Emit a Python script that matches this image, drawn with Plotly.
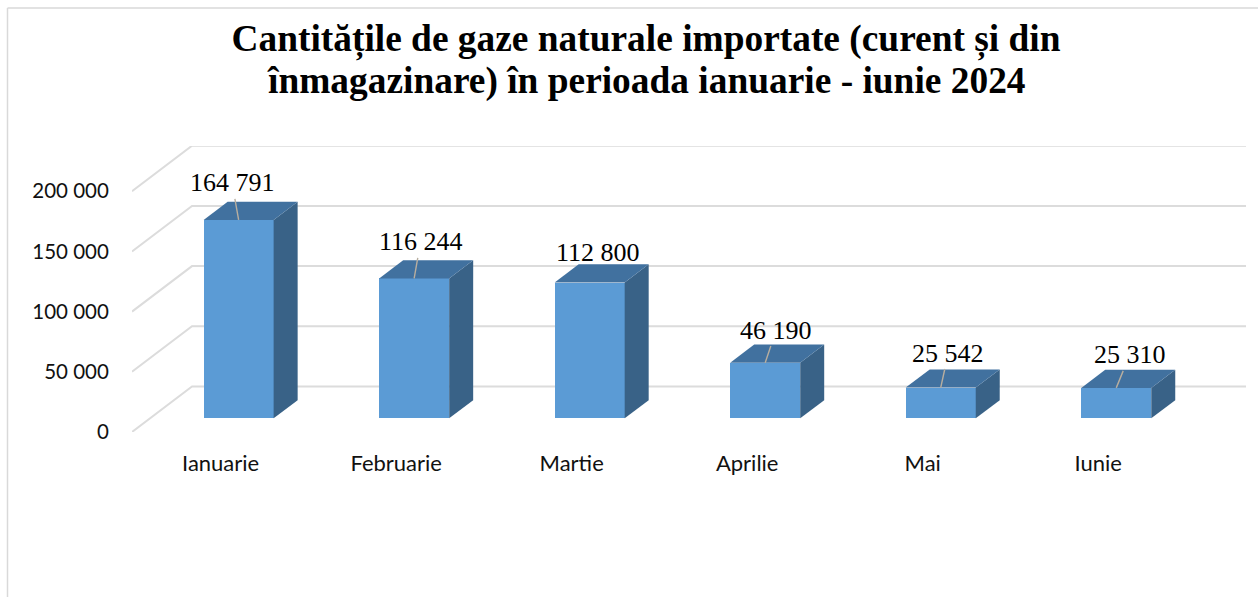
import plotly.graph_objects as go

categories = ["Ianuarie", "Februarie", "Martie", "Aprilie", "Mai", "Iunie"]
values = [164791, 116244, 112800, 46190, 25542, 25310]
value_labels = ["164 791", "116 244", "112 800", "46 190", "25 542", "25 310"]
y_ticks = [0, 50000, 100000, 150000, 200000]
y_tick_labels = ["0", "50 000", "100 000", "150 000", "200 000"]
title_line_1 = "Cantitățile de gaze naturale importate (curent și din"
title_line_2 = "înmagazinare) în perioada ianuarie - iunie 2024"

# label offsets from the bar's front top centre (pixels)
label_dx = [-6.6, 6.4, 8, 11, 7.6, 13.5]
label_dy = [-37, -36.6, -30, -32.7, -34.6, -33]
label_leader = [True, True, False, True, True, True]

W, H = 1258, 597
L, R, T, B = 132, 1246, 146, 432
PX_PER_CAT = 175.5
PX_PER_Y = 1.204 / 1000
DX = 60 / PX_PER_CAT        # floor depth, category units
DY = 45.5 / PX_PER_Y        # floor depth, value units
BAR_NEAR, BAR_FAR = 0.30, 0.70
BAR_W = 70 / PX_PER_CAT


def proj(x, y, d):
    return x + d * DX, y + d * DY


fig = go.Figure()

# grid: floor diagonals + back wall, under the bars
x0, x1 = -0.505, 5.5
for t in y_ticks:
    a = proj(x0, t, 0)
    b = proj(x0, t, 1)
    c = proj(x1, t, 1)
    fig.add_shape(type="path", xref="x", yref="y", layer="below",
                  path=f"M {a[0]} {a[1]} L {b[0]} {b[1]} L {c[0]} {c[1]}",
                  line=dict(color="#dcdcdc", width=2))

# side and top faces
for i, v in enumerate(values):
    l, r = i - BAR_W / 2, i + BAR_W / 2
    side = [proj(r, 0, BAR_NEAR), proj(r, 0, BAR_FAR), proj(r, v, BAR_FAR), proj(r, v, BAR_NEAR)]
    top = [proj(l, v, BAR_NEAR), proj(l, v, BAR_FAR), proj(r, v, BAR_FAR), proj(r, v, BAR_NEAR)]
    for pts, col in ((side, "#396287"), (top, "#41719f")):
        fig.add_trace(go.Scatter(x=[p[0] for p in pts], y=[p[1] for p in pts], fill="toself",
                                 mode="lines", line=dict(width=0), fillcolor=col,
                                 cliponaxis=False, hoverinfo="skip", showlegend=False))

# front faces
fig.add_trace(go.Bar(x=[i + BAR_NEAR * DX for i in range(len(values))], y=values,
                     base=BAR_NEAR * DY, width=BAR_W, marker=dict(color="#5b9bd5", line=dict(width=0)),
                     showlegend=False))

# data labels with leader lines
for i, v in enumerate(values):
    ax, ay = proj(i, v, BAR_NEAR)
    fig.add_annotation(x=ax, y=ay, text=value_labels[i], xref="x", yref="y",
                       showarrow=True, arrowhead=0, arrowwidth=1.4,
                       arrowcolor="#b8ae9f" if label_leader[i] else "rgba(0,0,0,0)",
                       axref="pixel", ayref="pixel", ax=label_dx[i], ay=label_dy[i],
                       font=dict(family="Liberation Serif", size=26, color="#000000"))

px = lambda p: (p - L) / (R - L)
py = lambda p: (B - p) / (B - T)

# second title line
fig.add_annotation(x=px(646), y=py(80.5), xref="paper", yref="paper", text="<b>" + title_line_2 + "</b>",
                   xanchor="center", yanchor="middle",
                   showarrow=False, font=dict(family="Liberation Serif", size=37.4, color="#000000"))

# outer frame
fig.add_shape(type="line", xref="paper", yref="paper", x0=px(7.5), x1=px(7.5), y0=py(8), y1=py(597),
              line=dict(color="#d9d9d9", width=1.5))
fig.add_shape(type="line", xref="paper", yref="paper", x0=px(7.5), x1=px(1258), y0=py(8), y1=py(8),
              line=dict(color="#d9d9d9", width=1.5))

fig.update_layout(
    width=W, height=H, paper_bgcolor="white", plot_bgcolor="white",
    margin=dict(l=L, r=W - R, t=T, b=H - B, pad=0),
    bargap=0, showlegend=False,
    title=dict(text="<b>" + title_line_1 + "</b>", x=646 / W, xanchor="center",
               y=1 - 38 / H, yanchor="middle", font=dict(family="Liberation Serif", size=37.4, color="#000000")),
    xaxis=dict(range=[-0.505, 5.5 + DX], tickmode="array", tickvals=list(range(len(categories))),
               ticktext=categories, showgrid=False, zeroline=False, showline=False,
               ticks="outside", ticklen=12, tickcolor="rgba(0,0,0,0)",
               tickfont=dict(family="Lato", size=22, color="#111111")),
    yaxis=dict(range=[0, (B - T) / PX_PER_Y], tickmode="array", tickvals=y_ticks, ticktext=y_tick_labels,
               showgrid=False, zeroline=False, showline=False,
               ticks="outside", ticklen=18, tickcolor="rgba(0,0,0,0)",
               tickfont=dict(family="Lato", size=20.5, color="#111111")),
)

fig.write_html("out.html", post_script="document.body.style.margin='0';",
               config={"displayModeBar": False})
